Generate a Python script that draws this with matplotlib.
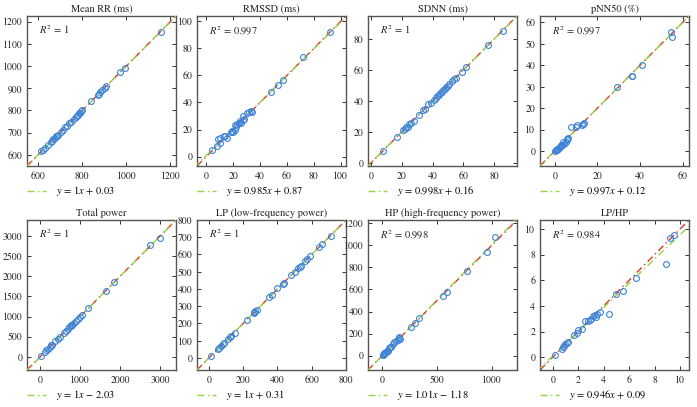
import matplotlib
matplotlib.use("Agg")
import matplotlib.pyplot as plt
from matplotlib.lines import Line2D
import numpy as np

plt.rcParams['font.family'] = ['STIXGeneral', 'DejaVu Serif']
plt.rcParams['mathtext.fontset'] = 'stix'

titles = ["Mean RR (ms)", "RMSSD (ms)", "SDNN (ms)", "pNN50 (%)",
          "Total power", "LP (low-frequency power)", "HP (high-frequency power)", "LP/HP"]
r2_labels = ["1", "0.997", "1", "0.997", "1", "1", "0.998", "0.984"]
slopes = [1.0, 0.985, 0.998, 0.997, 1.0, 1.0, 1.01, 0.946]
intercepts = [0.03, 0.87, 0.16, 0.12, -2.03, 0.31, -1.18, 0.09]
slope_labels = ["1", "0.985", "0.998", "0.997", "1", "1", "1.01", "0.946"]
limits = [(550, 1225), (-7, 104), (-2, 95), (-7, 63), (-330, 3400), (-70, 800), (-130, 1230), (-1, 10.7)]
xticks = [[600, 800, 1000, 1200], [0, 20, 40, 60, 80, 100], [0, 20, 40, 60, 80], [0, 20, 40, 60],
          [0, 1000, 2000, 3000], [0, 200, 400, 600, 800], [0, 500, 1000], [0, 2, 4, 6, 8, 10]]
yticks = [[600, 700, 800, 900, 1000, 1100, 1200], [0, 20, 40, 60, 80, 100], [0, 20, 40, 60, 80],
          [0, 10, 20, 30, 40, 50, 60], [0, 500, 1000, 1500, 2000, 2500, 3000],
          [0, 100, 200, 300, 400, 500, 600, 700, 800], [0, 200, 400, 600, 800, 1000, 1200],
          [0, 2, 4, 6, 8, 10]]

meanrr_x = [615, 622, 632, 645, 658, 664, 670, 676, 681, 686, 692, 702, 712, 722, 732, 742, 748, 762, 770, 776, 782, 787, 791, 795, 800, 842, 870, 876, 882, 892, 902, 910, 970, 992, 1155]
meanrr_y = [616, 620, 630, 644, 660, 663, 672, 675, 683, 684, 690, 703, 710, 724, 730, 743, 747, 760, 772, 775, 780, 788, 790, 797, 800, 843, 871, 874, 884, 890, 903, 911, 972, 993, 1154]

rmssd_x = [4, 8, 9, 10, 10, 13, 14, 15, 18, 19, 20, 21, 21, 22, 23, 24, 25, 26, 27, 27, 28, 30, 32, 33, 34, 48, 53, 57, 72, 92]
rmssd_y = [5, 8, 13, 10, 14, 15, 15, 14, 18, 19, 18, 20, 23, 22, 24, 25, 26, 25, 30, 27, 28, 32, 33, 34, 33, 48, 53, 57, 74, 92]

sdnn_x = [8, 17, 21, 22, 23, 24, 25, 26, 28, 31, 34, 35, 37, 39, 41, 42, 43, 44, 45, 46, 47, 48, 49, 50, 51, 53, 54, 55, 59, 62, 76, 86]
sdnn_y = [8, 17, 21, 22, 23, 23, 25, 26, 27, 31, 34, 35, 38, 39, 41, 42, 43, 44, 45, 46, 47, 48, 49, 50, 51, 53, 54, 55, 59, 62, 76, 85]

pnn50_x = [0, 0.5, 1, 1, 1.5, 2, 2.5, 3, 3, 3.5, 4, 4.5, 5, 5.5, 6, 5.5, 7.5, 10, 10.5, 12.5, 13, 13.5, 29, 36, 36, 41, 54.5, 55]
pnn50_y = [0, 0.5, 1, 0.3, 0.8, 1.5, 2, 2.5, 3, 3, 4, 3.5, 4, 5, 6, 5.5, 11, 11, 12, 12, 12.5, 13, 30, 35, 35.2, 40, 55.5, 53]

tp_x = [30, 120, 150, 200, 250, 280, 300, 380, 450, 500, 600, 650, 700, 730, 760, 780, 800, 850, 900, 950, 1000, 1050, 1200, 1650, 1850, 2750, 3000]
tp_y = [30, 130, 160, 200, 250, 280, 300, 390, 440, 480, 600, 650, 700, 730, 760, 780, 800, 840, 900, 950, 1000, 1040, 1200, 1630, 1860, 2790, 2960]

lp_x = [10, 50, 60, 70, 80, 90, 110, 120, 130, 150, 220, 260, 265, 270, 280, 350, 365, 400, 430, 440, 480, 500, 520, 530, 540, 560, 575, 590, 640, 660, 715]
lp_y = [12, 50, 60, 70, 80, 85, 110, 120, 130, 145, 220, 260, 265, 270, 280, 355, 365, 405, 430, 435, 480, 500, 520, 530, 535, 560, 575, 590, 645, 660, 710]

hp_x = [5, 10, 15, 20, 25, 30, 40, 50, 60, 70, 80, 100, 110, 130, 140, 150, 160, 155, 260, 300, 340, 550, 590, 770, 960, 1030]
hp_y = [5, 10, 15, 20, 25, 35, 40, 45, 70, 80, 75, 110, 120, 130, 140, 160, 150, 170, 260, 300, 340, 545, 580, 770, 940, 1080]

lphp_x = [0.2, 0.7, 0.8, 0.9, 1.0, 1.1, 1.2, 1.7, 1.9, 2.0, 2.3, 2.5, 2.8, 2.9, 3.0, 3.2, 3.3, 3.4, 3.5, 3.7, 4.4, 5.0, 5.5, 6.5, 8.9, 9.2, 9.5]
lphp_y = [0.2, 0.6, 0.8, 0.9, 1.0, 1.1, 1.2, 1.7, 1.9, 2.1, 2.2, 2.8, 2.8, 2.9, 3.0, 3.2, 3.3, 3.1, 3.4, 3.5, 3.4, 4.9, 5.2, 6.2, 7.3, 9.3, 9.5]

xs = [meanrr_x, rmssd_x, sdnn_x, pnn50_x, tp_x, lp_x, hp_x, lphp_x]
ys = [meanrr_y, rmssd_y, sdnn_y, pnn50_y, tp_y, lp_y, hp_y, lphp_y]

W, H = 697, 407
fig = plt.figure(figsize=(W / 100, H / 100), dpi=100)
lefts = [27, 197, 368, 540]
tops = [16, 220]
aw, ah = 149, 150

green = '#93d444'
red = '#e0352b'
blue = '#3b82d9'

for i in range(8):
    r, c = divmod(i, 4)
    l = lefts[c]
    t = tops[r]
    ax = fig.add_axes([l / W, (H - t - ah) / H, aw / W, ah / H])
    lo, hi = limits[i]
    xx = np.array([lo, hi])
    ax.plot(xx, xx, color=red, lw=1.0, ls=(0, (5, 2.5, 1, 2.5)), zorder=2)
    ax.plot(xx, slopes[i] * xx + intercepts[i], color=green, lw=1.0, ls=(3, (5, 2.5, 1, 2.5)), zorder=3)
    ax.plot(xs[i], ys[i], 'o', mfc='none', mec=blue, ms=4.2, mew=0.8, zorder=4)
    ax.set_xlim(lo, hi)
    ax.set_ylim(lo, hi)
    ax.set_xticks(xticks[i])
    ax.set_yticks(yticks[i])
    ax.tick_params(direction='in', length=3, width=0.7, labelsize=7, top=True, right=True,
                   colors='#333333', labelcolor='#222222', pad=3.5)
    for s in ax.spines.values():
        s.set_color('#555555')
        s.set_linewidth(1.0)
    ax.set_title(titles[i], fontsize=7.5, pad=3, color='#222222')
    ax.text(0.08, 0.88, r'$R^2$ = ' + r2_labels[i], transform=ax.transAxes, fontsize=7.5,
            color='#222222')
    sign = '+' if intercepts[i] >= 0 else '\u2212'
    lab = r'$y$ = ' + slope_labels[i] + r'$x$ ' + sign + ' %.2f' % abs(intercepts[i])
    h = Line2D([0], [0], color=green, lw=1.0, ls=(0, (5, 2.5, 1, 2.5)))
    ax.legend([h], [lab], loc='upper left', bbox_to_anchor=(-0.03, -0.095), frameon=False,
              fontsize=7.5, handlelength=1.9, handletextpad=0.9, borderaxespad=0.0)

fig.savefig('out.png', dpi=100)
